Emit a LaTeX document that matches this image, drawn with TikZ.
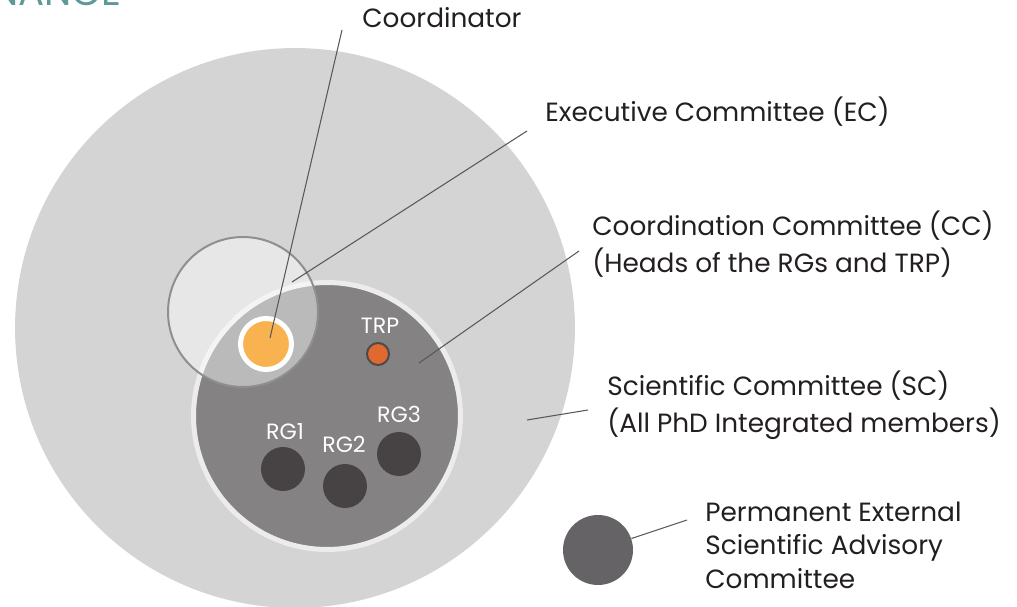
\documentclass[tikz,border=0pt]{standalone}
\usepackage{fontspec}
\setmainfont{Poppins}
\definecolor{bigGray}{HTML}{D4D4D4}
\definecolor{ringWhite}{HTML}{ECECEC}
\definecolor{darkGray}{HTML}{848283}
\definecolor{rgDark}{HTML}{474344}
\definecolor{trpOrange}{HTML}{E0692F}
\definecolor{trpRim}{HTML}{4E4A4A}
\definecolor{coordOrange}{HTML}{F8B350}
\definecolor{ecRim}{HTML}{8F8F8F}
\definecolor{pesacGray}{HTML}{656366}
\definecolor{ink}{HTML}{231F20}
\definecolor{leader}{HTML}{58585A}
\definecolor{teal}{HTML}{5B9A96}
\begin{document}
\begin{tikzpicture}[x=0.02cm,y=-0.02cm]
    \useasboundingbox (0,0) rectangle (1017,607);
    \node[anchor=base east, inner sep=0pt, text=teal, font=\fontsize{22}{22}\selectfont] (title) at (122,6) {GOVERNANCE};
    \begin{scope}[every node/.style={circle, inner sep=0pt}]
        \node[fill=bigGray, minimum size=11.2cm] (SC) at (295,328) {};
        \node[fill=darkGray, draw=ringWhite, line width=0.1cm, minimum size=5.34cm] (CC) at (327,416) {};
        \node[fill=trpOrange, draw=trpRim, line width=0.04cm, minimum size=0.44cm] (TRP) at (378,354) {};
        \node[fill=rgDark, minimum size=0.88cm] (RG1) at (283,469) {};
        \node[fill=rgDark, minimum size=0.88cm] (RG2) at (345,486) {};
        \node[fill=rgDark, minimum size=0.88cm] (RG3) at (399,454) {};
        \node[fill=white, fill opacity=0.45, draw=ecRim, draw opacity=1, line width=0.04cm, minimum size=3cm] (EC) at (243,312) {};
        \node[fill=coordOrange, draw=white, line width=0.1cm, minimum size=1.02cm] (coord) at (266,344) {};
        \node[fill=pesacGray, minimum size=1.4cm] (PESAC) at (598,550) {};
    \end{scope}
    \begin{scope}[every node/.style={anchor=base, inner sep=0pt, text=white, font=\fontsize{12.6}{12.6}\selectfont}]
        \node (TRPlbl) at (380,334) {TRP};
        \node (RG1lbl) at (285,439) {RG1};
        \node (RG2lbl) at (344,453) {RG2};
        \node (RG3lbl) at (399,423) {RG3};
    \end{scope}
    % anchored at the baseline of the last line
    \begin{scope}[every node/.style={anchor=base west, inner sep=0pt, align=left, text=ink, font=\fontsize{15}{21.6}\selectfont}]
        \node (coordlbl) at (362,28) {Coordinator};
        \node (EClbl) at (545,122) {Executive Committee (EC)};
        \node (CClbl) at (592,273) {Coordination Committee (CC)\\(Heads of the RGs and TRP)};
        \node (SClbl) at (607,433) {Scientific Committee (SC)\\(All PhD Integrated members)};
        \node[font=\fontsize{15}{18.8}\selectfont] (PESAClbl) at (705,588) {Permanent External\\Scientific Advisory\\Committee};
    \end{scope}
    % leader lines
    \coordinate (coordA) at (342,30);  \coordinate (coordB) at (270,338);
    \coordinate (ECA) at (527,131);    \coordinate (ECB) at (292,282);
    \coordinate (CCA) at (579,251);    \coordinate (CCB) at (419,363);
    \coordinate (SCA) at (588,410);    \coordinate (SCB) at (527,420);
    \coordinate (PESACA) at (687,520);
    \begin{scope}[every path/.style={draw=leader, line width=0.6pt}]
        \path (coordA) -- (coordB);
        \path (ECA) -- (ECB);
        \path (CCA) -- (CCB);
        \path (SCA) -- (SCB);
        \path (PESACA) -- (PESAC.19);
    \end{scope}
\end{tikzpicture}
\end{document}
